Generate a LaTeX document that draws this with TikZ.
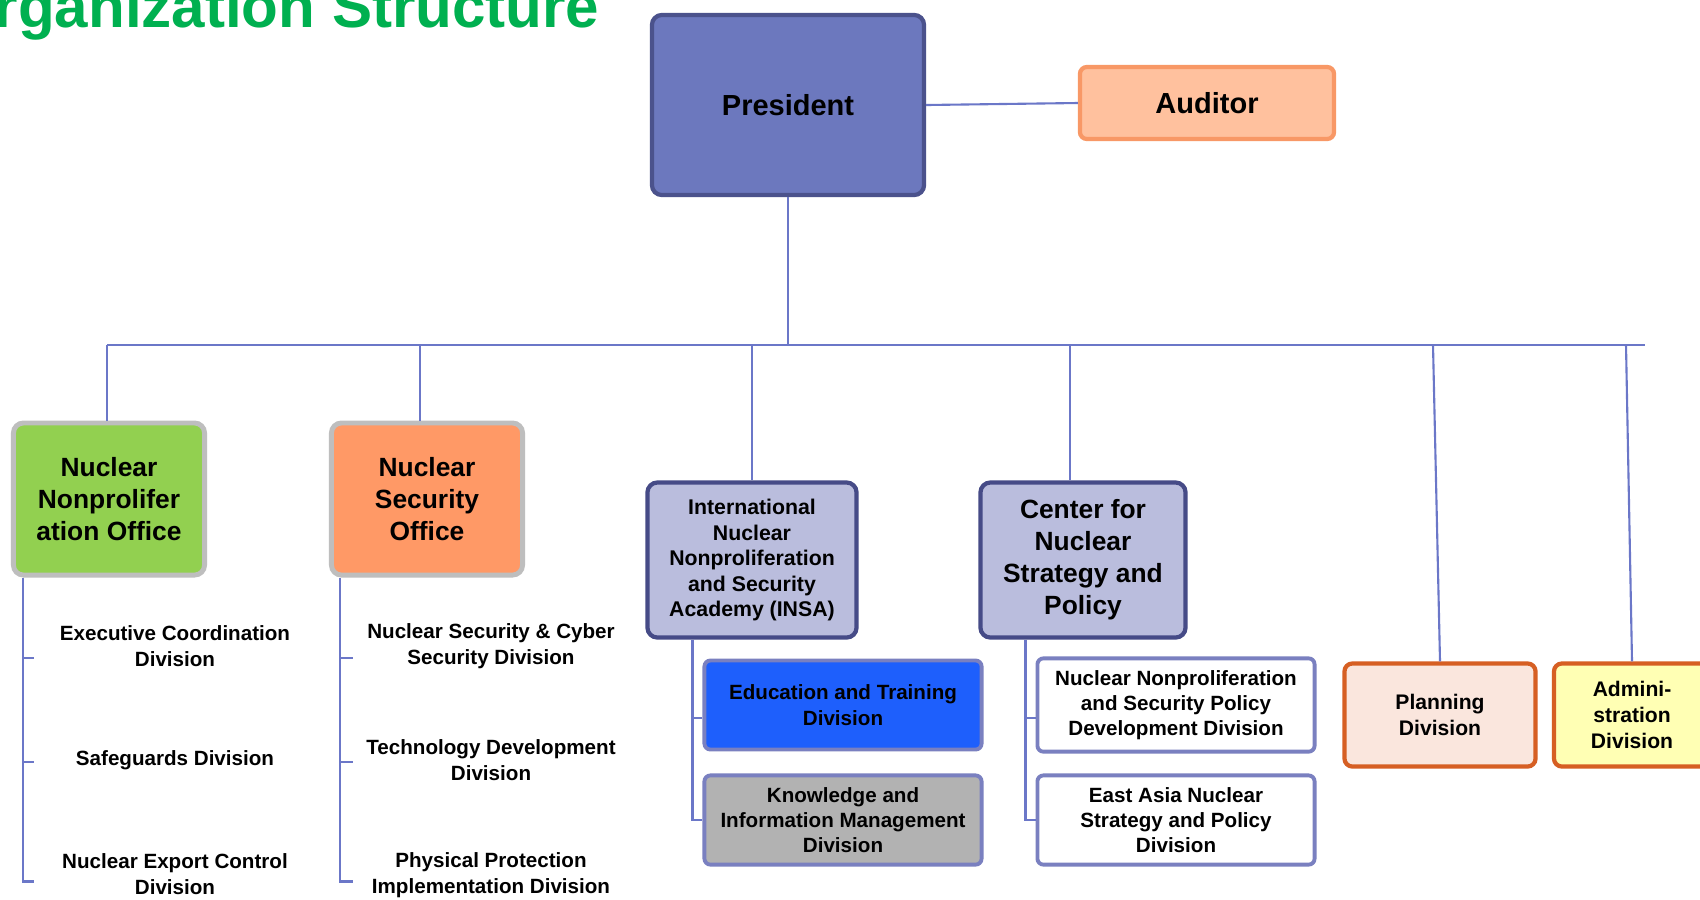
\documentclass[tikz,border=0pt]{standalone}
\usepackage{fontspec}
\setmainfont{Liberation Sans}
\definecolor{linkblue}{RGB}{107,119,200}
\definecolor{titlegreen}{RGB}{0,176,80}
\definecolor{presfill}{RGB}{108,120,190}
\definecolor{presdraw}{RGB}{75,82,140}
\definecolor{audfill}{RGB}{255,193,158}
\definecolor{auddraw}{RGB}{248,152,102}
\definecolor{nnofill}{RGB}{146,208,80}
\definecolor{nsofill}{RGB}{255,153,102}
\definecolor{officedraw}{RGB}{190,190,190}
\definecolor{acadfill}{RGB}{186,189,221}
\definecolor{acaddraw}{RGB}{70,75,135}
\definecolor{divdraw}{RGB}{122,128,192}
\definecolor{edufill}{RGB}{30,95,252}
\definecolor{kimfill}{RGB}{178,178,178}
\definecolor{plandraw}{RGB}{214,95,35}
\definecolor{planfill}{RGB}{250,230,221}
\definecolor{adminfill}{RGB}{255,255,180}

\begin{document}
\begin{tikzpicture}[x=0.01cm, y=-0.01cm,
  lnk/.style={draw=linkblue, line width=0.6pt},
  boss/.style={rectangle, rounded corners=0.1cm, line width=1.2pt, align=center,
    font=\fontsize{8.25pt}{9.9pt}\selectfont\bfseries},
  office/.style={rectangle, rounded corners=0.1cm, draw=officedraw, line width=1.4pt,
    minimum width=1.91cm, minimum height=1.52cm, align=center,
    font=\fontsize{7.5pt}{9.1pt}\selectfont\bfseries},
  acad/.style={rectangle, rounded corners=0.1cm, fill=acadfill, draw=acaddraw, line width=1.2pt,
    minimum height=1.55cm, align=center},
  unit/.style={rectangle, rounded corners=0.06cm, draw=divdraw, line width=1.1pt,
    minimum width=2.77cm, minimum height=0.89cm, align=center,
    font=\fontsize{5.86pt}{7.2pt}\selectfont\bfseries},
  divtext/.style={align=center, inner sep=0pt, font=\fontsize{5.86pt}{7.3pt}\selectfont\bfseries},
  orng/.style={rectangle, rounded corners=0.08cm, draw=plandraw, line width=1.2pt,
    minimum height=1.03cm, align=center, font=\fontsize{6pt}{7.3pt}\selectfont\bfseries}]
\path[use as bounding box, fill=white] (0,0) rectangle (1700,899);
\clip (0,0) rectangle (1700,899);

% title
\node[anchor=base west, inner sep=0pt, text=titlegreen, font=\fontsize{17.1pt}{20pt}\selectfont\bfseries] (title) at (-6,27) {rganization Structure};

% top
\node[boss, fill=presfill, draw=presdraw, minimum width=2.72cm, minimum height=1.80cm] (pres) at (788,105) {President};
\node[boss, fill=audfill, draw=auddraw, minimum width=2.54cm, minimum height=0.72cm, rounded corners=0.07cm] (aud) at (1207,103) {Auditor};

% offices and centers
\node[office, fill=nnofill] (nno) at (109,499) {Nuclear\\Nonprolifer\\ation Office};
\node[office, fill=nsofill] (nso) at (427,499) {Nuclear\\Security\\Office};
\node[acad, minimum width=2.09cm, font=\fontsize{6.05pt}{7.25pt}\selectfont\bfseries] (insa) at (752,560)
  {International\\Nuclear\\Nonproliferation\\and Security\\Academy (INSA)};
\node[acad, minimum width=2.05cm, font=\fontsize{7.5pt}{9.1pt}\selectfont\bfseries] (cnsp) at (1083,560)
  {Center for\\Nuclear\\Strategy and\\Policy};
\node[orng, fill=planfill, minimum width=1.91cm] (plan) at (1440,715) {Planning\\Division};
\node[orng, fill=adminfill, minimum width=1.56cm] (admin) at (1632,715) {Admini-\\stration\\Division};

% boxed divisions
\node[unit, fill=edufill] (edu) at (843,705) {Education and Training\\Division};
\node[unit, fill=kimfill] (kim) at (843,820) {Knowledge and\\Information Management\\Division};
\node[unit, fill=white] (nnspd) at (1176,705) {Nuclear Nonproliferation\\and Security Policy\\Development Division};
\node[unit, fill=white] (eansp) at (1176,820) {East Asia Nuclear\\Strategy and Policy\\Division};

% listed divisions
\node[divtext] (exec) at (175,646) {Executive Coordination\\Division};
\node[divtext] (safe) at (175,760) {Safeguards Division};
\node[divtext] (nexp) at (175,874) {Nuclear Export Control\\Division};
\node[divtext] (cyber) at (491,646) {Nuclear Security \& Cyber\\Security Division};
\node[divtext] (tech) at (491,760) {Technology Development\\Division};
\node[divtext] (phys) at (491,875) {Physical Protection\\Implementation Division};

% bus
\coordinate (busL) at (107,345);
\coordinate (busR) at (1645,345);
\draw[lnk] (busL) -- (busR);
\draw[lnk] (pres.south) -- (pres.south |- busL);
\draw[lnk] (pres.east) -- (aud.west);
\draw[lnk] ([xshift=-0.02cm]nno.north |- busL) -- ([xshift=-0.02cm]nno.north);
\draw[lnk] ([xshift=-0.07cm]nso.north |- busL) -- ([xshift=-0.07cm]nso.north);
\draw[lnk] (insa.north |- busL) -- (insa.north);
\draw[lnk] ([xshift=-0.13cm]cnsp.north |- busL) -- ([xshift=-0.13cm]cnsp.north);
\draw[lnk] (1433,345) -- (plan.north);
\draw[lnk] (1626,345) -- (admin.north);

% rails
\coordinate (nnoRail) at ([xshift=0.12cm]nno.south west);
\draw[lnk] (nnoRail) -- ++(0,304) -- ++(11,0);
\draw[lnk] ([yshift=-0.8cm]nnoRail) -- ++(11,0);
\draw[lnk] ([yshift=-1.84cm]nnoRail) -- ++(11,0);
\coordinate (nsoRail) at ([xshift=0.11cm]nso.south west);
\draw[lnk] (nsoRail) -- ++(0,304) -- ++(13,0);
\draw[lnk] ([yshift=-0.8cm]nsoRail) -- ++(13,0);
\draw[lnk] ([yshift=-1.84cm]nsoRail) -- ++(13,0);
\coordinate (insaRail) at ([xshift=-0.1cm]kim.west);
\draw[lnk] (insa.south -| insaRail) |- (kim.west);
\draw[lnk] ([yshift=-0.13cm]edu.west) -- ++(-10,0);
\coordinate (cnspRail) at ([xshift=-0.1cm]eansp.west);
\draw[lnk] (cnsp.south -| cnspRail) |- (eansp.west);
\draw[lnk] ([yshift=-0.13cm]nnspd.west) -- ++(-10,0);
\end{tikzpicture}
\end{document}
